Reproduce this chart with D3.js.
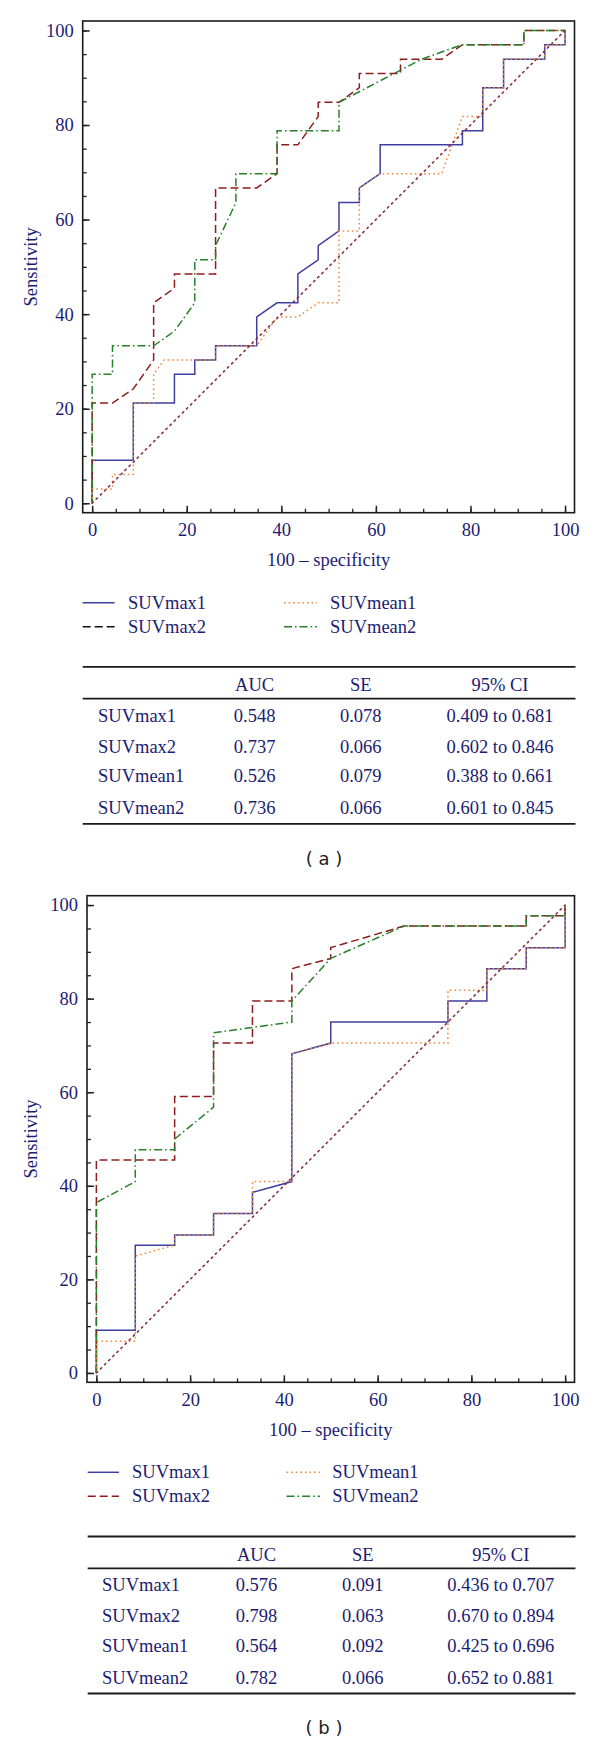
<!DOCTYPE html>
<html><head><meta charset="utf-8">
<script src="https://cdn.jsdelivr.net/npm/d3@7"></script>
<style>
html,body{margin:0;padding:0;background:#fff;}
svg{display:block;}
</style></head><body>
<svg id="chart" width="600" height="1744"></svg>
<script>
// ---------------- DATA ----------------
const axisTicks = [0, 20, 40, 60, 80, 100];
const seriesNames = ["SUVmax1", "SUVmax2", "SUVmean1", "SUVmean2"];
const xTitle = "100 \u2013 specificity";
const yTitle = "Sensitivity";
const tableHeader = ["AUC", "SE", "95% CI"];

// Panel (a): ROC points [100-specificity, sensitivity]
const a_SUVmax1 = [[0,0],[0,9.1],[8.7,9.1],[8.7,21.2],[17.4,21.2],[17.4,27.3],[21.7,27.3],[21.7,30.3],[26.1,30.3],[26.1,33.3],[34.8,33.3],[34.8,39.4],[39.1,42.4],[43.5,42.4],[43.5,48.5],[47.8,51.5],[47.8,54.5],[52.2,57.6],[52.2,63.6],[56.5,63.6],[56.5,66.7],[60.9,69.7],[60.9,75.8],[78.3,75.8],[78.3,78.8],[82.6,78.8],[82.6,87.9],[87.0,87.9],[87.0,93.9],[95.7,93.9],[95.7,97.0],[100,97.0],[100,100]];
const a_SUVmax2 = [[0,0],[0,21.2],[4.3,21.2],[8.7,24.2],[13.0,30.3],[13.0,42.4],[17.4,45.5],[17.4,48.5],[26.1,48.5],[26.1,66.7],[34.8,66.7],[39.1,69.7],[39.1,75.8],[43.5,75.8],[47.8,81.8],[47.8,84.8],[52.2,84.8],[56.5,87.9],[56.5,90.9],[65.2,90.9],[65.2,93.9],[73.9,93.9],[78.3,97.0],[91.3,97.0],[91.3,100],[100,100]];
const a_SUVmean1 = [[0,0],[0,3.0],[4.3,3.0],[4.3,6.1],[8.7,6.1],[8.7,21.2],[13.0,21.2],[13.0,27.3],[15.2,30.3],[26.1,30.3],[26.1,33.3],[34.8,33.3],[39.1,39.4],[43.5,39.4],[47.8,42.4],[52.2,42.4],[52.2,57.6],[56.5,57.6],[56.5,66.7],[60.9,69.7],[73.9,69.7],[78.3,81.8],[82.6,81.8],[82.6,87.9],[87.0,87.9],[87.0,93.9],[95.7,93.9],[95.7,97.0],[100,97.0],[100,100]];
const a_SUVmean2 = [[0,0],[0,27.3],[4.3,27.3],[4.3,33.3],[13.0,33.3],[17.4,36.4],[21.7,42.4],[21.7,51.5],[26.1,51.5],[26.1,54.5],[30.4,63.6],[30.4,69.7],[39.1,69.7],[39.1,78.8],[52.2,78.8],[52.2,84.8],[69.6,93.9],[78.3,97.0],[91.3,97.0],[91.3,100],[100,100]];
const a_AUC = ["0.548", "0.737", "0.526", "0.736"];
const a_SE  = ["0.078", "0.066", "0.079", "0.066"];
const a_CI  = ["0.409 to 0.681", "0.602 to 0.846", "0.388 to 0.661", "0.601 to 0.845"];

// Panel (b)
const b_SUVmax1 = [[0,0],[0,9.1],[8.3,9.1],[8.3,27.3],[16.7,27.3],[16.7,29.5],[25,29.5],[25,34.1],[33.3,34.1],[33.3,38.6],[41.7,40.9],[41.7,68.2],[50,70.5],[50,75],[75,75],[75,79.5],[83.3,79.5],[83.3,86.4],[91.7,86.4],[91.7,90.9],[100,90.9],[100,100]];
const b_SUVmax2 = [[0,0],[0,45.5],[16.7,45.5],[16.7,59.1],[25,59.1],[25,70.5],[33.3,70.5],[33.3,79.5],[41.7,79.5],[41.7,86.4],[50,88.6],[50,90.9],[65.6,95.5],[91.7,95.5],[91.7,97.7],[100,97.7],[100,100]];
const b_SUVmean1 = [[0,0],[0,6.8],[8.3,6.8],[8.3,25],[16.7,27.3],[16.7,29.5],[25,29.5],[25,34.1],[33.3,34.1],[33.3,40.9],[41.7,40.9],[41.7,68.2],[50,70.5],[75,70.5],[75,81.8],[83.3,81.8],[83.3,86.4],[91.7,86.4],[91.7,90.9],[100,90.9],[100,100]];
const b_SUVmean2 = [[0,0],[0,36.4],[8.3,40.9],[8.3,47.7],[16.7,47.7],[16.7,50],[25,56.8],[25,72.7],[41.7,75],[41.7,79.5],[50,88.6],[65.6,95.5],[91.7,95.5],[91.7,97.7],[100,97.7],[100,100]];
const b_AUC = ["0.576", "0.798", "0.564", "0.782"];
const b_SE  = ["0.091", "0.063", "0.092", "0.066"];
const b_CI  = ["0.436 to 0.707", "0.670 to 0.894", "0.425 to 0.696", "0.652 to 0.881"];

const diagonal = [[0,0],[100,100]];

// ---------------- STYLE ----------------
const TEXT = "#1c1c72";
const SERIF = "'Liberation Serif','Times New Roman',serif";
const FS = 18.5;
const styles = {
  SUVmax1:  {color:"#3f3f9f", dash:null, w:1.5},
  SUVmax2:  {color:"#8e1c1c", dash:"8,4", w:1.5},
  SUVmean1: {color:"#f0883a", dash:"1.6,3", w:1.5},
  SUVmean2: {color:"#2a7f2a", dash:"8,3,1.6,3", w:1.5}
};
const diagStyle = {color:"#863248", dash:"1.6,4.2", w:1.6};

const svg = d3.select("#chart");

function drawPanel(p) {
  const g = svg.append("g");
  const x = d3.scaleLinear().domain([-2, 102]).range([p.left, p.right]);
  const y = d3.scaleLinear().domain([-2, 102]).range([p.bottom, p.top]);

  // minor ticks
  const minor = d3.range(0, 101, 5);
  g.append("g").attr("transform", `translate(${p.left},0)`)
    .call(d3.axisLeft(y).tickValues(minor).tickSize(-4).tickFormat(""))
    .call(s => { s.select(".domain").remove(); s.selectAll("line").attr("stroke","#222").attr("stroke-width",1.3); });
  g.append("g").attr("transform", `translate(0,${p.bottom})`)
    .call(d3.axisBottom(x).tickValues(minor).tickSize(-4).tickFormat(""))
    .call(s => { s.select(".domain").remove(); s.selectAll("line").attr("stroke","#222").attr("stroke-width",1.3); });
  // major ticks
  g.append("g").attr("transform", `translate(${p.left},0)`)
    .call(d3.axisLeft(y).tickValues(axisTicks).tickSize(-7).tickPadding(9))
    .call(s => {
      s.select(".domain").remove();
      s.selectAll("line").attr("stroke","#222").attr("stroke-width",1.5);
      s.selectAll("text").attr("fill",TEXT).style("font-family",SERIF).style("font-size",FS+"px");
    });
  g.append("g").attr("transform", `translate(0,${p.bottom})`)
    .call(d3.axisBottom(x).tickValues(axisTicks).tickSize(-7).tickPadding(0))
    .call(s => {
      s.select(".domain").remove();
      s.selectAll("line").attr("stroke","#222").attr("stroke-width",1.5);
      s.selectAll("text").attr("y", 23.5).attr("dy", null).attr("fill",TEXT).style("font-family",SERIF).style("font-size",FS+"px");
    });

  const line = d3.line().x(d => x(d[0])).y(d => y(d[1]));
  const order = ["SUVmax1", "SUVmax2", "SUVmean2", "SUVmean1"];
  order.forEach(name => {
    const st = styles[name];
    g.append("path").datum(p.series[name]).attr("d", line)
      .attr("fill","none").attr("stroke", st.color).attr("stroke-width", st.w)
      .attr("stroke-dasharray", st.dash);
  });
  g.append("path").datum(diagonal).attr("d", line)
    .attr("fill","none").attr("stroke", diagStyle.color).attr("stroke-width", diagStyle.w)
    .attr("stroke-dasharray", diagStyle.dash).attr("stroke-linecap","round");

  // frame
  g.append("rect").attr("x", p.left).attr("y", p.top)
    .attr("width", p.right - p.left).attr("height", p.bottom - p.top)
    .attr("fill","none").attr("stroke","#1a1a1a").attr("stroke-width",1.6);

  // axis titles
  g.append("text").attr("x", (x(0)+x(100))/2).attr("y", p.bottom + 53.5)
    .attr("text-anchor","middle").attr("fill",TEXT)
    .style("font-family",SERIF).style("font-size",FS+"px").text(xTitle);
  g.append("text").attr("transform", `translate(${p.yTitleX},${(y(0)+y(100))/2}) rotate(-90)`)
    .attr("text-anchor","middle").attr("dy","0.32em").attr("fill",TEXT)
    .style("font-family",SERIF).style("font-size",FS+"px").text(yTitle);

  // legend
  const legRows = [p.bottom + 90, p.bottom + 114];
  seriesNames.forEach((name, i) => {
    const col = p.legendCols[Math.floor(i/2)];
    const cy = legRows[i % 2];
    const st = styles[name];
    const color = (name === "SUVmax2" && p.legendMax2Color) ? p.legendMax2Color : st.color;
    g.append("line").attr("x1", col.sx1).attr("x2", col.sx2).attr("y1", cy).attr("y2", cy)
      .attr("stroke", color).attr("stroke-width", st.w).attr("stroke-dasharray", st.dash);
    g.append("text").attr("x", col.lx).attr("y", cy + 6).attr("fill",TEXT)
      .style("font-family",SERIF).style("font-size",FS+"px").text(name);
  });

  // table
  const t = p.table;
  const B = p.bottom;
  [[B+154.2, 1.8], [B+186, 1.8], [B+311.2, 1.8]].forEach(([ly, w]) => {
    g.append("line").attr("x1", t.left).attr("x2", t.right).attr("y1", ly).attr("y2", ly)
      .attr("stroke","#1a1a1a").attr("stroke-width", w);
  });
  tableHeader.forEach((h, j) => {
    g.append("text").attr("x", t.colX[j]).attr("y", B + 172.5 + 6).attr("text-anchor","middle")
      .attr("fill",TEXT).style("font-family",SERIF).style("font-size",FS+"px").text(h);
  });
  const rowY = [B+203, B+234, B+263.5, B+295.3];
  seriesNames.forEach((name, i) => {
    const cy = rowY[i] + 6;
    g.append("text").attr("x", t.labelX).attr("y", cy).attr("fill",TEXT)
      .style("font-family",SERIF).style("font-size",FS+"px").text(name);
    [p.auc[i], p.se[i], p.ci[i]].forEach((v, j) => {
      g.append("text").attr("x", t.colX[j]).attr("y", cy).attr("text-anchor","middle")
        .attr("fill",TEXT).style("font-family",SERIF).style("font-size",FS+"px").text(v);
    });
  });

  // caption
  g.append("text").attr("x", 324).attr("y", B + 345.6 + 6.5).attr("text-anchor","middle")
    .attr("fill","#222").style("font-family","'DejaVu Sans',Verdana,sans-serif").style("font-size","18px")
    .attr("xml:space","preserve").text(p.caption);
}

drawPanel({
  left: 82.7, right: 574.5, top: 21, bottom: 512.7, yTitleX: 31,
  series: {SUVmax1: a_SUVmax1, SUVmax2: a_SUVmax2, SUVmean1: a_SUVmean1, SUVmean2: a_SUVmean2},
  legendCols: [{sx1: 82.7, sx2: 114.6, lx: 128}, {sx1: 284, sx2: 317, lx: 330}],
  legendMax2Color: "#111",
  table: {left: 82.7, right: 575.5, labelX: 98, colX: [254.6, 360.8, 500]},
  auc: a_AUC, se: a_SE, ci: a_CI, caption: "( a )"
});
drawPanel({
  left: 87, right: 574.5, top: 895.7, bottom: 1382.3, yTitleX: 31,
  series: {SUVmax1: b_SUVmax1, SUVmax2: b_SUVmax2, SUVmean1: b_SUVmean1, SUVmean2: b_SUVmean2},
  legendCols: [{sx1: 87.7, sx2: 119, lx: 132}, {sx1: 286.5, sx2: 320, lx: 332.3}],
  legendMax2Color: null,
  table: {left: 87.7, right: 575.5, labelX: 102, colX: [256.5, 362.7, 500.8]},
  auc: b_AUC, se: b_SE, ci: b_CI, caption: "( b )"
});
</script>
</body></html>
